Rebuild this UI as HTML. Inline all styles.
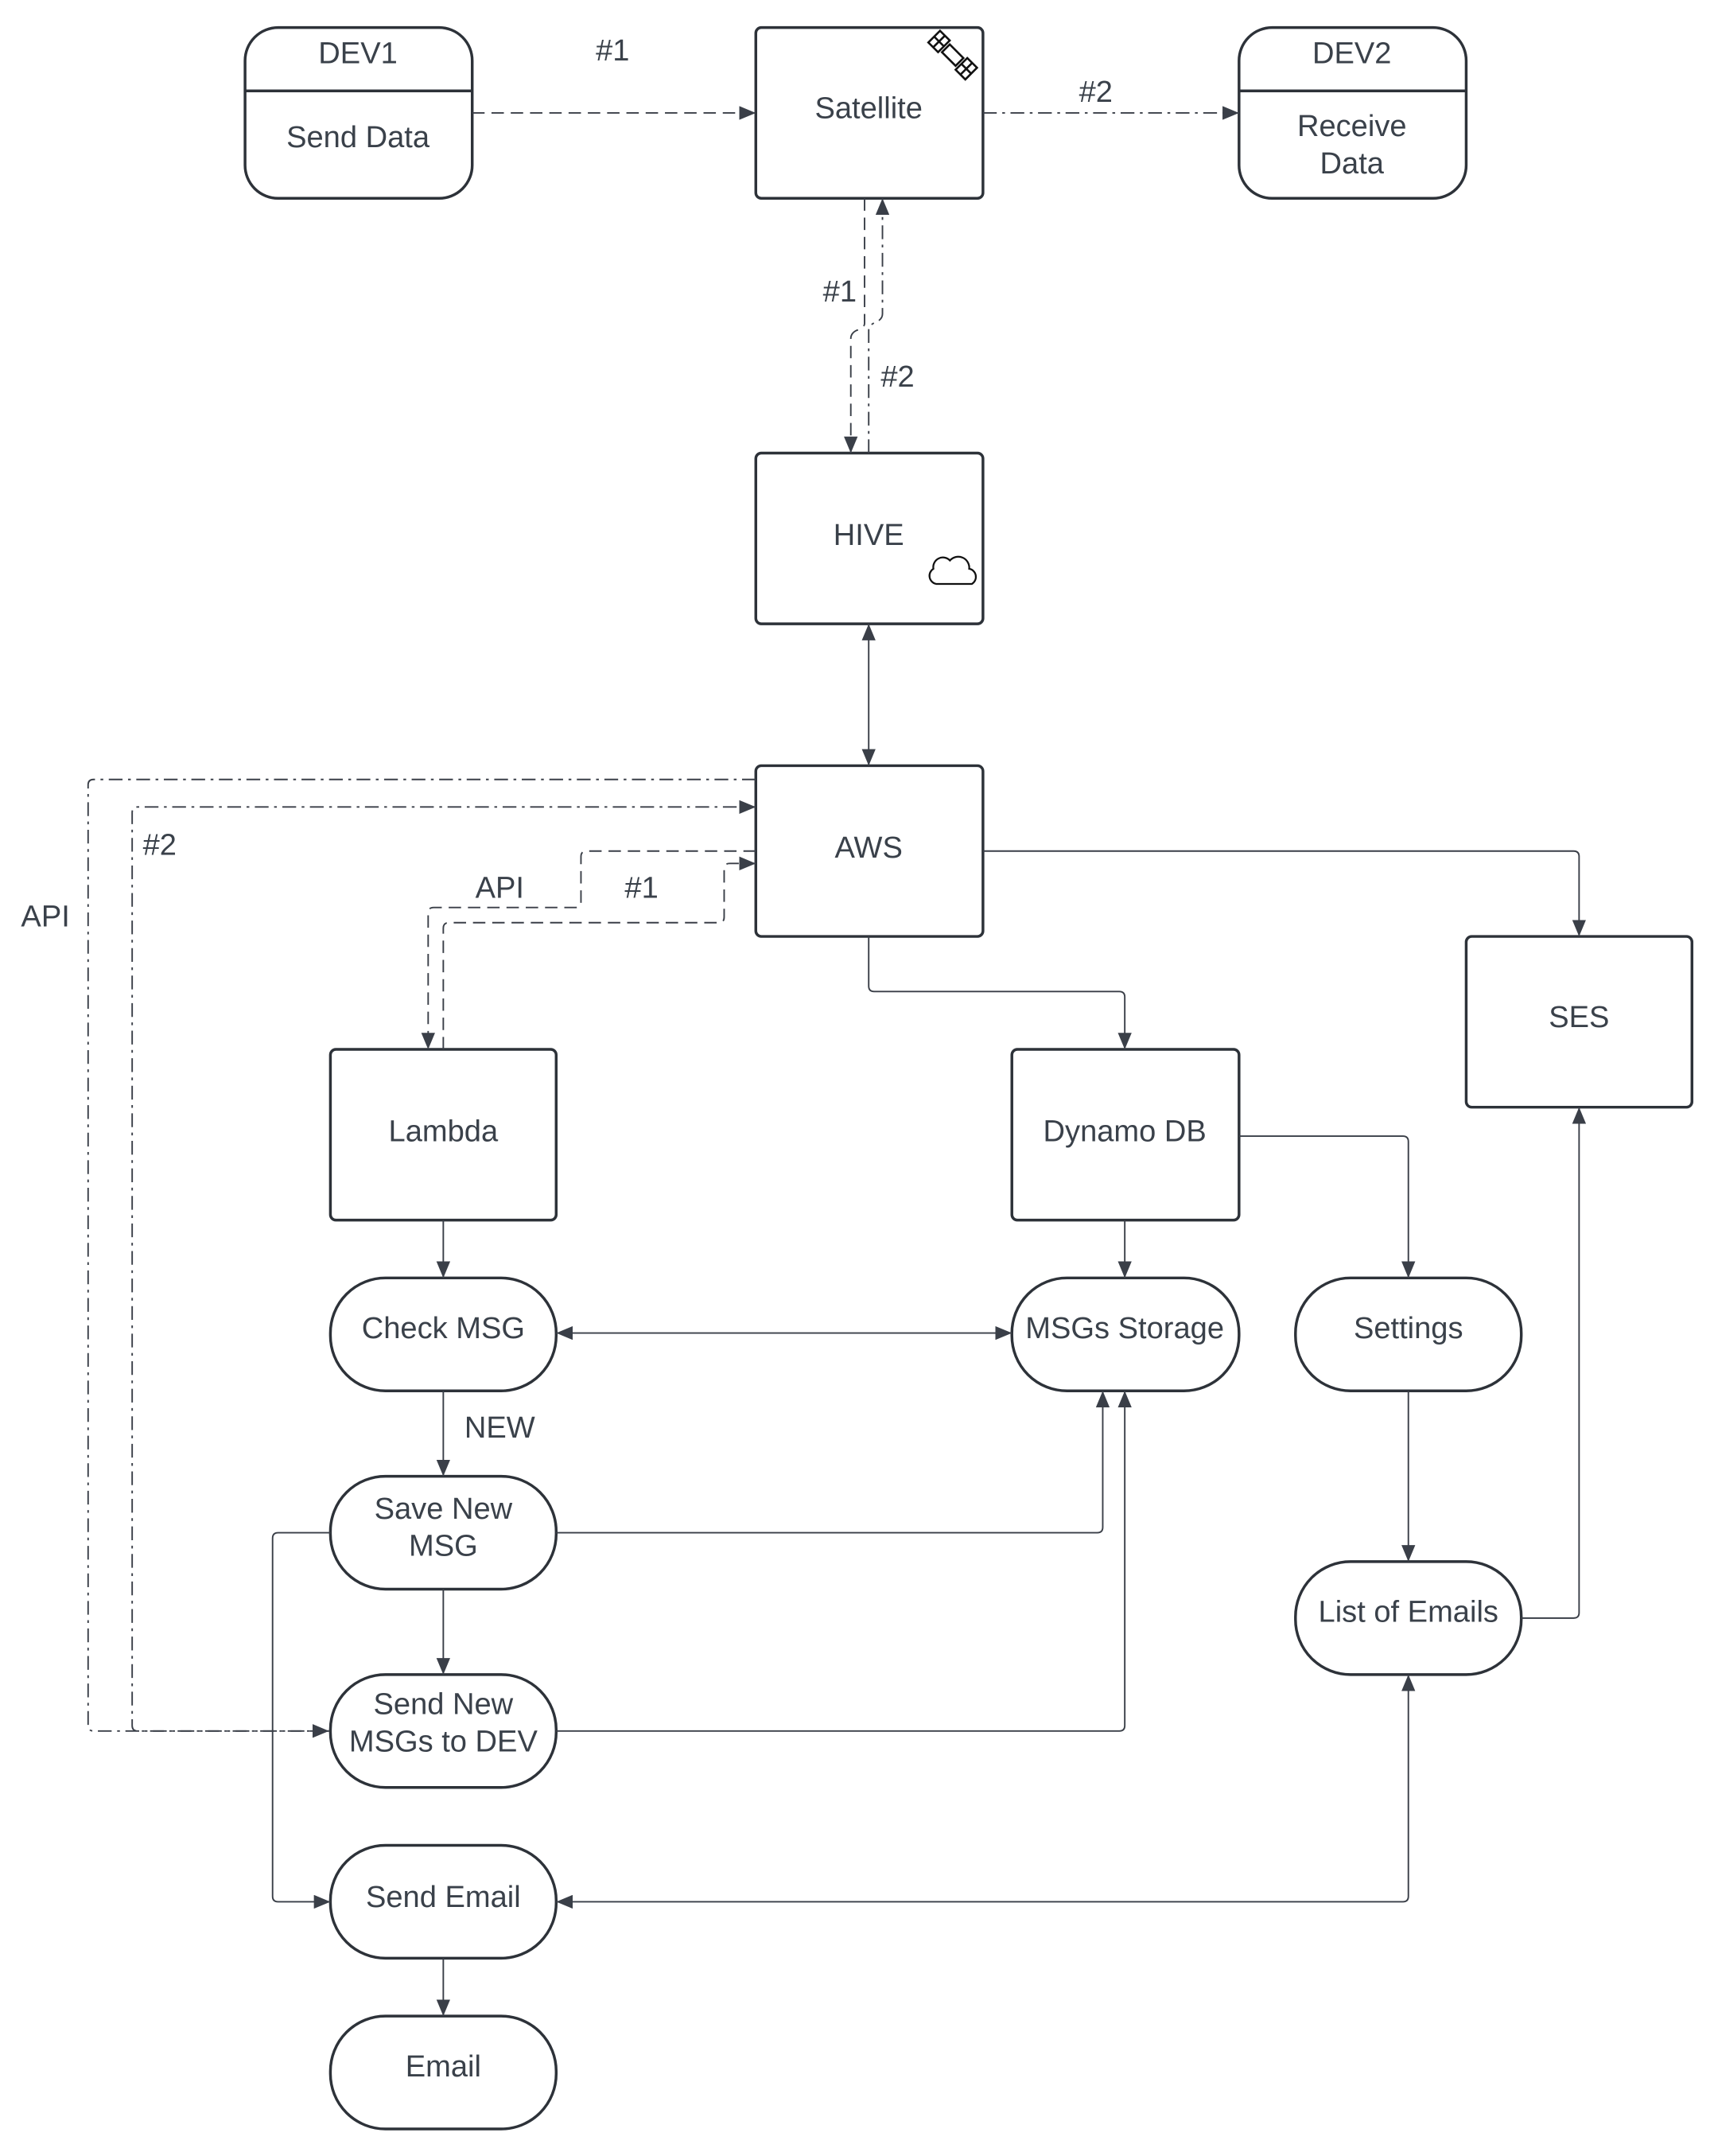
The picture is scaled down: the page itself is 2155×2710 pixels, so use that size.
<!DOCTYPE html>
<html><head><meta charset="utf-8"><style>
html,body{margin:0;padding:0;background:#fff;}
svg{display:block;}
text{font-family:"Liberation Sans",sans-serif;font-size:22px;fill:#3a414a;text-anchor:middle;dominant-baseline:middle;}
.b{fill:#fff;stroke:#2d3239;stroke-width:2;}
.l{fill:none;stroke:#3a3f48;stroke-width:1.1;}
.d{stroke-dasharray:9 5;}
.dd{stroke-dasharray:10 4 2 4;}
</style></head><body>
<svg width="2155" height="2710" viewBox="0 0 1245 1565.6" xmlns="http://www.w3.org/2000/svg">
<defs>
<marker id="a" viewBox="0 0 12 10" refX="12" refY="5" markerWidth="12" markerHeight="10" markerUnits="userSpaceOnUse" orient="auto-start-reverse"><path d="M0,0 L12,5 L0,10 z" fill="#3a3f48"/></marker>
</defs>
<rect width="1245" height="1566" fill="#fff"/>
<rect class="b" x="178" y="20" width="165" height="124" rx="24"/>
<line class="b" x1="178" y1="66" x2="343" y2="66"/>
<text x="260" y="40">DEV1</text><text x="260" y="101">Send Data</text>
<rect class="b" x="549" y="20" width="165" height="124" rx="4"/>
<text x="631" y="80">Satellite</text>
<g transform="translate(692,40) rotate(-45)" fill="none" stroke="#111" stroke-width="1.5"><rect x="-4" y="-7" width="8" height="14"/><rect x="-6" y="-19" width="12" height="10"/><rect x="-6" y="9" width="12" height="10"/><line x1="-6" y1="-14" x2="6" y2="-14"/><line x1="-6" y1="14" x2="6" y2="14"/><line x1="0" y1="-19" x2="0" y2="-9"/><line x1="0" y1="9" x2="0" y2="19"/></g>
<rect class="b" x="900" y="20" width="165" height="124" rx="24"/>
<line class="b" x1="900" y1="66" x2="1065" y2="66"/>
<text x="982" y="40">DEV2</text><text x="982" y="93">Receive</text><text x="982" y="120">Data</text>
<rect class="b" x="549" y="329" width="165" height="124" rx="4"/>
<text x="631" y="390">HIVE</text>
<path d="M680,424 h26 a6,6 0 0 0 -2,-11 a8,8 0 0 0 -14,-6 a7,7 0 0 0 -12,6 a6,6 0 0 0 2,11 z" fill="#fff" stroke="#111" stroke-width="1.3"/>
<rect class="b" x="549" y="556" width="165" height="124" rx="4"/>
<text x="631" y="617">AWS</text>
<rect class="b" x="1065" y="680" width="164" height="124" rx="4"/>
<text x="1147" y="740">SES</text>
<rect class="b" x="240" y="762" width="164" height="124" rx="4"/>
<text x="322" y="823">Lambda</text>
<rect class="b" x="735" y="762" width="165" height="124" rx="4"/>
<text x="817" y="823">Dynamo DB</text>
<rect class="b" x="240" y="928" width="164" height="82" rx="40"/>
<text x="322" y="966">Check MSG</text>
<rect class="b" x="735" y="928" width="165" height="82" rx="40"/>
<text x="817" y="966">MSGs Storage</text>
<rect class="b" x="941" y="928" width="164" height="82" rx="40"/>
<text x="1023" y="966">Settings</text>
<rect class="b" x="240" y="1072" width="164" height="82" rx="40"/>
<text x="322" y="1097">Save New</text><text x="322" y="1124">MSG</text>
<rect class="b" x="240" y="1216" width="164" height="82" rx="40"/>
<text x="322" y="1239">Send New</text><text x="322" y="1266">MSGs to DEV</text>
<rect class="b" x="941" y="1134" width="164" height="82" rx="40"/>
<text x="1023" y="1172">List of Emails</text>
<rect class="b" x="240" y="1340" width="164" height="82" rx="40"/>
<text x="322" y="1379">Send Email</text>
<rect class="b" x="240" y="1464" width="164" height="82" rx="40"/>
<text x="322" y="1502">Email</text>
<path class="l d" d="M343,82 H549" marker-end="url(#a)"/>
<text x="445" y="38">#1</text>
<path class="l dd" d="M714,82 H900" marker-end="url(#a)"/>
<text x="796" y="68">#2</text>
<path class="l d" d="M628,144 V235 Q628,238 622,240 Q618,242 618,246 V329" marker-end="url(#a)"/>
<path class="l dd" d="M631,329 V240 Q631,236 636,234 Q641,232 641,228 V144" marker-end="url(#a)"/>
<text x="610" y="213">#1</text><text x="652" y="275">#2</text>
<path class="l" d="M631,453 V556" marker-start="url(#a)" marker-end="url(#a)"/>
<path class="l dd" d="M549,566 H68 Q64,566 64,570 V1253 Q64,1257 68,1257 H239" marker-end="url(#a)"/>
<text x="33" y="667">API</text>
<path class="l dd" d="M239,1257 H100 Q96,1257 96,1253 V590 Q96,586 100,586 H549" marker-end="url(#a)"/>
<text x="116" y="615">#2</text>
<path class="l d" d="M549,618 H426 Q422,618 422,622 V655 Q422,659 418,659 H315 Q311,659 311,663 V762" marker-end="url(#a)"/>
<text x="363" y="646">API</text>
<path class="l d" d="M322,762 V674 Q322,670 326,670 H522 Q526,670 526,666 V631 Q526,627 530,627 H549" marker-end="url(#a)"/>
<text x="466" y="646">#1</text>
<path class="l" d="M714,618 H1143 Q1147,618 1147,622 V680" marker-end="url(#a)"/>
<path class="l" d="M631,680 V716 Q631,720 635,720 H813 Q817,720 817,724 V762" marker-end="url(#a)"/>
<path class="l" d="M900,825 H1019 Q1023,825 1023,829 V928" marker-end="url(#a)"/>
<path class="l" d="M322,886 V928" marker-end="url(#a)"/>
<path class="l" d="M817,886 V928" marker-end="url(#a)"/>
<path class="l" d="M404,968 H735" marker-start="url(#a)" marker-end="url(#a)"/>
<path class="l" d="M322,1010 V1072" marker-end="url(#a)"/>
<text x="363" y="1038">NEW</text>
<path class="l" d="M404,1113 H797 Q801,1113 801,1109 V1010" marker-end="url(#a)"/>
<path class="l" d="M240,1113 H202 Q198,1113 198,1117 V1377 Q198,1381 202,1381 H240" marker-end="url(#a)"/>
<path class="l" d="M322,1154 V1216" marker-end="url(#a)"/>
<path class="l" d="M404,1257 H813 Q817,1257 817,1253 V1010" marker-end="url(#a)"/>
<path class="l" d="M1023,1010 V1134" marker-end="url(#a)"/>
<path class="l" d="M1105,1175 H1143 Q1147,1175 1147,1171 V804" marker-end="url(#a)"/>
<path class="l" d="M404,1381 H1019 Q1023,1381 1023,1377 V1216" marker-start="url(#a)" marker-end="url(#a)"/>
<path class="l" d="M322,1422 V1464" marker-end="url(#a)"/>
</svg>
</body></html>
